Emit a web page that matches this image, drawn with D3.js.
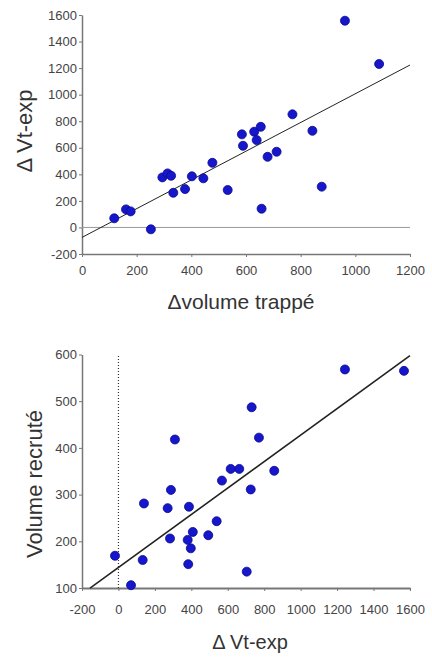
<!DOCTYPE html>
<html>
<head>
<meta charset="utf-8">
<script src="https://cdn.jsdelivr.net/npm/d3@7"></script>
<style>
  html, body { margin: 0; padding: 0; background: #fff; }
  svg { display: block; font-family: "Liberation Sans", Arial, sans-serif; }
  .tick text { fill: #444; font-size: 13px; }
  .domain, .tick line { stroke: #777; }
</style>
</head>
<body>
<svg id="chart" width="432" height="657"></svg>
<script>
// Upper panel: change in trapped volume vs change in end-expiratory tidal volume
const trappedVolume = [118, 161, 178, 252, 294, 313, 326, 334, 377, 402, 444, 477, 533,
                       585, 589, 630, 639, 654, 657, 679, 712, 770, 843, 877, 962, 1087];
const deltaVtExpTop = [69, 136, 121, -14, 377, 407, 389, 261, 289, 385, 370, 487, 282,
                       701, 615, 721, 658, 758, 141, 532, 570, 852, 728, 307, 1557, 1231];
const topFit = { intercept: -75, slope: 1.082, from: 0, to: 1200 };
const topXTicks = [0, 200, 400, 600, 800, 1000, 1200];
const topYTicks = [-200, 0, 200, 400, 600, 800, 1000, 1200, 1400, 1600];

// Lower panel: change in end-expiratory tidal volume vs recruited volume
const deltaVtExpBottom = [-19, 69, 133, 140, 270, 288, 283, 310, 387, 380, 397, 408, 383,
                          493, 539, 568, 616, 663, 731, 726, 704, 771, 855, 1243, 1567];
const recruitedVolume = [169, 106, 160, 281, 271, 310, 206, 418, 274, 203, 185, 220, 151,
                         213, 243, 330, 355, 355, 487, 311, 135, 422, 351, 568, 565];
const bottomFit = { intercept: 144, slope: 0.2835, from: -156, to: 1600 };
const bottomXTicks = [-200, 0, 200, 400, 600, 800, 1000, 1200, 1400, 1600];
const bottomYTicks = [100, 200, 300, 400, 500, 600];

const svg = d3.select("#chart");
const dotFill = "#1616cc", dotStroke = "#0b0b8a";
// plain hyphen for negative tick values
const plain = d => String(d);

function panel(cfg) {
  const g = svg.append("g");
  const x = d3.scaleLinear().domain(cfg.xDomain).range(cfg.xRange);
  const y = d3.scaleLinear().domain(cfg.yDomain).range(cfg.yRange);

  g.append("g")
    .attr("transform", `translate(0,${cfg.yRange[0]})`)
    .call(d3.axisBottom(x).tickValues(cfg.xTicks).tickSize(3).tickSizeOuter(0)
      .tickPadding(cfg.xPad).tickFormat(plain))
    .call(s => s.select(".domain").attr("stroke", cfg.xAxisColor).attr("stroke-width", cfg.xAxisWidth));

  g.append("g")
    .attr("transform", `translate(${cfg.xRange[0]},0)`)
    .call(d3.axisLeft(y).tickValues(cfg.yTicks).tickSize(3).tickSizeOuter(0)
      .tickPadding(2).tickFormat(plain))
    .call(s => s.select(".domain").attr("stroke-width", 1.5));

  if (cfg.extra) cfg.extra(g, x, y);

  const fit = cfg.fit;
  g.append("line")
    .attr("x1", x(fit.from)).attr("y1", y(fit.intercept + fit.slope * fit.from))
    .attr("x2", x(fit.to)).attr("y2", y(fit.intercept + fit.slope * fit.to))
    .attr("stroke", "#222").attr("stroke-width", cfg.fitWidth);

  g.append("g").selectAll("circle")
    .data(d3.zip(cfg.xs, cfg.ys))
    .join("circle")
    .attr("cx", d => x(d[0]))
    .attr("cy", d => y(d[1]))
    .attr("r", 4.5)
    .attr("fill", dotFill)
    .attr("stroke", dotStroke)
    .attr("stroke-width", 0.8);

  g.append("text")
    .attr("x", cfg.xTitlePos[0]).attr("y", cfg.xTitlePos[1])
    .attr("text-anchor", "middle")
    .attr("font-size", cfg.xTitleSize)
    .attr("fill", "#333")
    .text(cfg.xTitle);

  g.append("text")
    .attr("transform", `translate(${cfg.yTitlePos[0]},${cfg.yTitlePos[1]}) rotate(-90)`)
    .attr("text-anchor", "middle")
    .attr("font-size", 22)
    .attr("fill", "#333")
    .text(cfg.yTitle);
}

panel({
  xDomain: [0, 1200], xRange: [82, 410],
  yDomain: [-200, 1600], yRange: [254, 15],
  xTicks: topXTicks, yTicks: topYTicks, xPad: 9,
  xAxisColor: "#888", xAxisWidth: 1.5,
  xs: trappedVolume, ys: deltaVtExpTop,
  fit: topFit, fitWidth: 1,
  extra: (g, x, y) => {
    g.append("line")
      .attr("x1", x(0)).attr("x2", x(1200))
      .attr("y1", y(0)).attr("y2", y(0))
      .attr("stroke", "#999").attr("stroke-width", 1);
  },
  xTitle: "\u0394volume trappé", xTitlePos: [241, 309], xTitleSize: 21,
  yTitle: "\u0394 Vt-exp", yTitlePos: [32, 131]
});

panel({
  xDomain: [-200, 1600], xRange: [82, 410],
  yDomain: [100, 600], yRange: [588, 354.5],
  xTicks: bottomXTicks, yTicks: bottomYTicks, xPad: 14,
  xAxisColor: "#333", xAxisWidth: 1.8,
  xs: deltaVtExpBottom, ys: recruitedVolume,
  fit: bottomFit, fitWidth: 1.6,
  extra: (g, x, y) => {
    g.append("line")
      .attr("x1", x(0)).attr("x2", x(0))
      .attr("y1", y(100)).attr("y2", y(600))
      .attr("stroke", "#333").attr("stroke-width", 1.2)
      .attr("stroke-dasharray", "1,2");
  },
  xTitle: "\u0394 Vt-exp", xTitlePos: [250, 649], xTitleSize: 20,
  yTitle: "Volume recruté", yTitlePos: [42, 484]
});
</script>
</body>
</html>
